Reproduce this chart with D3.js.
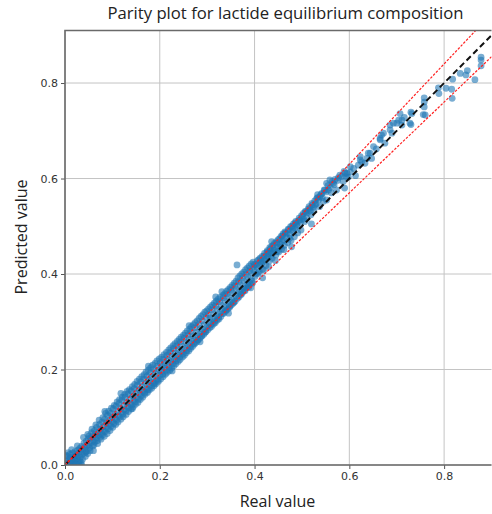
<!DOCTYPE html>
<html>
<head>
<meta charset="utf-8">
<script src="https://cdn.jsdelivr.net/npm/d3@7"></script>
<style>
  body { margin: 0; background: #fff; }
  svg { display: block; }
</style>
</head>
<body>
<svg class="parity" width="492" height="514"></svg>
<script>
var width = 492
var height = 514

// [real, predicted] pairs (core of the band)
var samples = [
  [0.002,0.008],[0.004,0.000],[0.005,0.018],[0.006,0.004],[0.008,0.012],[0.009,0.001],[0.010,0.022],[0.011,0.007],
  [0.012,0.015],[0.013,0.003],[0.015,0.010],[0.016,0.025],[0.017,0.006],[0.018,0.017],[0.019,0.000],[0.020,0.013],
  [0.021,0.028],[0.022,0.009],[0.023,0.019],[0.024,0.002],[0.025,0.024],[0.026,0.014],[0.027,0.031],[0.028,0.008],
  [0.029,0.021],[0.030,0.001],[0.031,0.035],[0.032,0.016],[0.033,0.027],[0.034,0.006],[0.035,0.039],[0.036,0.022],
  [0.037,0.012],[0.038,0.033],[0.040,0.046],[0.041,0.025],[0.042,0.037],[0.043,0.018],[0.045,0.050],[0.046,0.030],
  [0.047,0.041],[0.048,0.024],[0.049,0.055],
  [0.050,0.042],[0.051,0.061],[0.052,0.036],[0.054,0.056],[0.055,0.047],[0.056,0.068],[0.058,0.040],[0.059,0.060],
  [0.060,0.052],[0.062,0.072],[0.063,0.048],[0.064,0.064],[0.066,0.057],[0.067,0.079],[0.068,0.051],[0.070,0.069],
  [0.071,0.062],[0.073,0.085],[0.074,0.058],[0.075,0.075],[0.077,0.066],[0.078,0.090],[0.079,0.063],[0.081,0.080],
  [0.082,0.071],[0.084,0.096],[0.085,0.070],[0.087,0.088],[0.088,0.079],[0.090,0.104],[0.091,0.076],[0.093,0.093],
  [0.094,0.085],[0.096,0.108],[0.097,0.081],[0.099,0.100],
  [0.100,0.091],[0.102,0.118],[0.103,0.087],[0.105,0.106],[0.106,0.097],[0.108,0.124],[0.109,0.094],[0.111,0.112],
  [0.113,0.103],[0.114,0.129],[0.116,0.101],[0.117,0.119],[0.119,0.110],[0.120,0.136],[0.122,0.107],[0.124,0.125],
  [0.125,0.116],[0.127,0.142],[0.128,0.113],[0.130,0.131],[0.132,0.122],[0.133,0.149],[0.135,0.120],[0.137,0.139],
  [0.138,0.128],[0.140,0.155],[0.141,0.126],[0.143,0.145],[0.145,0.135],[0.146,0.160],[0.148,0.132],[0.150,0.151],
  [0.151,0.141],[0.153,0.167],[0.155,0.138],[0.156,0.158],[0.158,0.149],[0.160,0.174],[0.161,0.145],[0.163,0.164],
  [0.165,0.155],[0.166,0.180],[0.168,0.152],[0.170,0.171],[0.172,0.160],[0.173,0.186],[0.175,0.158],[0.177,0.178],
  [0.179,0.167],[0.180,0.193],[0.182,0.165],[0.184,0.184],[0.186,0.173],[0.187,0.200],[0.189,0.171],[0.191,0.192],
  [0.193,0.180],[0.195,0.207],[0.196,0.178],[0.198,0.199],
  [0.200,0.188],[0.201,0.214],[0.203,0.196],[0.205,0.207],[0.206,0.190],[0.208,0.221],[0.210,0.203],[0.211,0.214],
  [0.213,0.198],[0.215,0.229],[0.217,0.209],[0.218,0.220],[0.220,0.205],[0.222,0.236],[0.224,0.216],[0.226,0.228],
  [0.227,0.212],[0.229,0.243],[0.231,0.222],[0.233,0.235],[0.235,0.219],[0.236,0.250],[0.238,0.230],[0.240,0.242],
  [0.242,0.226],[0.244,0.258],[0.246,0.237],[0.247,0.249],[0.249,0.233],[0.251,0.265],[0.253,0.244],[0.255,0.257],
  [0.257,0.240],[0.259,0.272],[0.260,0.251],[0.262,0.264],[0.264,0.248],[0.266,0.279],[0.268,0.259],[0.270,0.271],
  [0.272,0.255],[0.274,0.287],[0.276,0.266],[0.278,0.279],[0.280,0.262],[0.282,0.294],[0.284,0.274],[0.286,0.286],
  [0.288,0.270],[0.290,0.302],[0.292,0.281],[0.294,0.294],[0.296,0.278],[0.298,0.309],
  [0.300,0.290],[0.302,0.315],[0.304,0.298],[0.306,0.308],[0.308,0.294],[0.310,0.325],[0.312,0.305],[0.314,0.317],
  [0.316,0.301],[0.318,0.333],[0.320,0.313],[0.322,0.326],[0.324,0.309],[0.326,0.342],[0.328,0.321],[0.331,0.363],
  [0.330,0.334],[0.332,0.317],[0.334,0.350],[0.336,0.330],[0.338,0.343],[0.340,0.325],[0.342,0.358],[0.344,0.338],
  [0.346,0.351],[0.348,0.333],[0.350,0.366],[0.352,0.346],[0.354,0.360],[0.356,0.341],[0.358,0.374],[0.360,0.355],
  [0.363,0.419],[0.362,0.368],[0.364,0.349],[0.366,0.383],[0.368,0.363],[0.370,0.377],[0.372,0.357],[0.374,0.391],
  [0.376,0.371],[0.378,0.385],[0.380,0.365],[0.382,0.399],[0.384,0.380],[0.386,0.394],[0.388,0.373],[0.390,0.407],
  [0.392,0.388],[0.394,0.402],[0.396,0.381],[0.398,0.415],
  [0.398,0.408],[0.401,0.395],[0.403,0.420],[0.405,0.415],[0.407,0.402],[0.409,0.430],[0.411,0.418],[0.413,0.426],
  [0.415,0.422],[0.417,0.410],[0.419,0.408],[0.420,0.438],[0.422,0.429],[0.424,0.418],[0.426,0.446],[0.428,0.436],
  [0.429,0.443],[0.431,0.427],[0.433,0.452],[0.435,0.444],[0.437,0.433],[0.439,0.460],[0.441,0.450],[0.443,0.450],
  [0.445,0.440],[0.447,0.464],[0.449,0.455],[0.451,0.446],[0.453,0.474],[0.455,0.462],[0.457,0.452],[0.459,0.480],
  [0.461,0.471],[0.463,0.460],[0.465,0.486],[0.467,0.476],[0.470,0.466],[0.472,0.493],[0.475,0.482],[0.477,0.470],
  [0.479,0.500],[0.481,0.489],[0.484,0.478],[0.486,0.507],[0.489,0.503],[0.491,0.486],[0.493,0.512],[0.496,0.513],
  [0.498,0.492],
  [0.501,0.520],[0.503,0.527],[0.506,0.510],[0.508,0.530],[0.510,0.517],[0.513,0.536],[0.517,0.538],[0.519,0.524],
  [0.522,0.545],[0.525,0.533],[0.528,0.545],[0.531,0.558],[0.535,0.555],[0.537,0.541],[0.540,0.566],[0.542,0.569],
  [0.545,0.552],[0.548,0.575],[0.552,0.555],[0.552,0.590],[0.556,0.576],[0.559,0.597],[0.562,0.570],[0.566,0.590],
  [0.570,0.598],[0.573,0.576],[0.577,0.602],[0.584,0.604],[0.587,0.594],[0.591,0.611],[0.595,0.611],[0.598,0.603],
  [0.602,0.614],[0.602,0.625],[0.609,0.621],[0.613,0.606],[0.619,0.628],[0.623,0.639],[0.623,0.646],[0.626,0.635],
  [0.633,0.632],[0.637,0.642],[0.640,0.653],[0.644,0.653],[0.647,0.642],[0.651,0.667],[0.657,0.662],[0.665,0.681],
  [0.665,0.684],[0.668,0.691],[0.672,0.695],[0.675,0.674],[0.686,0.702],[0.686,0.712],[0.690,0.695],[0.693,0.716],
  [0.700,0.716],
  [0.704,0.722],[0.707,0.736],[0.711,0.712],[0.711,0.722],[0.716,0.728],[0.728,0.716],[0.730,0.739],[0.730,0.713],
  [0.732,0.736],[0.756,0.734],[0.758,0.769],[0.758,0.760],[0.758,0.750],[0.760,0.733],[0.788,0.790],[0.789,0.778],
  [0.804,0.789],[0.816,0.787],[0.817,0.768],[0.818,0.808],[0.834,0.820],[0.846,0.817],[0.849,0.826],[0.865,0.807],
  [0.878,0.854],[0.878,0.848],[0.878,0.836]
]

// [real, predicted] pairs on the outer edges of the band
var edgeSamples = [
  [0.003,0.020],[0.007,0.026],[0.014,0.032],[0.020,0.004],[0.026,0.040],[0.031,0.009],[0.035,0.000],[0.039,0.058],
  [0.044,0.027],[0.048,0.064],[0.053,0.030],[0.057,0.075],[0.061,0.042],[0.065,0.084],[0.069,0.045],[0.072,0.094],
  [0.076,0.054],[0.080,0.099],[0.083,0.060],[0.086,0.108],[0.089,0.066],[0.092,0.113],[0.095,0.072],[0.098,0.119],
  [0.101,0.079],[0.104,0.125],[0.107,0.085],[0.110,0.132],[0.112,0.090],[0.115,0.137],[0.118,0.096],[0.121,0.142],
  [0.123,0.101],[0.126,0.148],[0.129,0.106],[0.131,0.154],[0.134,0.112],[0.136,0.158],[0.139,0.117],[0.142,0.164],
  [0.144,0.122],[0.147,0.169],[0.149,0.127],[0.152,0.175],[0.154,0.131],[0.157,0.180],[0.159,0.137],[0.162,0.185],
  [0.164,0.142],[0.167,0.189],[0.169,0.148],[0.171,0.195],[0.174,0.152],[0.176,0.199],[0.178,0.157],[0.181,0.204],
  [0.183,0.161],[0.185,0.209],[0.188,0.166],[0.190,0.213],[0.192,0.170],[0.194,0.218],[0.197,0.175],[0.199,0.222],
  [0.202,0.180],[0.204,0.226],[0.207,0.185],[0.209,0.231],[0.212,0.190],[0.214,0.236],[0.216,0.194],[0.219,0.241],
  [0.221,0.198],[0.223,0.245],[0.225,0.203],[0.228,0.250],[0.230,0.208],[0.232,0.254],[0.234,0.212],[0.237,0.259],
  [0.239,0.217],[0.241,0.263],[0.243,0.221],[0.245,0.268],[0.248,0.226],[0.250,0.272],[0.252,0.230],[0.254,0.276],
  [0.256,0.235],[0.258,0.281],[0.261,0.239],[0.263,0.285],[0.265,0.244],[0.267,0.290],[0.269,0.248],[0.271,0.294],
  [0.273,0.253],[0.275,0.298],[0.277,0.257],[0.279,0.302],[0.281,0.262],[0.283,0.307],[0.285,0.266],[0.287,0.311],
  [0.289,0.270],[0.291,0.315],[0.293,0.274],[0.295,0.320],[0.297,0.279],[0.299,0.323],
  [0.301,0.283],[0.303,0.327],[0.305,0.287],[0.307,0.331],[0.309,0.290],[0.311,0.335],[0.313,0.295],[0.315,0.339],
  [0.317,0.298],[0.319,0.343],[0.321,0.303],[0.323,0.347],[0.325,0.306],[0.327,0.351],[0.329,0.311],[0.333,0.355],
  [0.335,0.318],[0.337,0.359],[0.339,0.322],[0.341,0.364],[0.343,0.326],[0.345,0.368],[0.347,0.330],[0.349,0.372],
  [0.351,0.335],[0.353,0.376],[0.355,0.339],[0.357,0.381],[0.359,0.343],[0.361,0.385],[0.365,0.392],[0.367,0.352],
  [0.369,0.396],[0.371,0.358],[0.373,0.400],[0.375,0.362],[0.377,0.404],[0.379,0.367],[0.381,0.409],[0.383,0.371],
  [0.385,0.413],[0.387,0.376],[0.389,0.417],[0.391,0.380],[0.393,0.421],[0.395,0.385],[0.397,0.425],
  [0.400,0.420],[0.404,0.400],[0.406,0.428],[0.410,0.405],[0.412,0.433],[0.416,0.437],[0.418,0.425],[0.421,0.443],
  [0.425,0.432],[0.427,0.449],[0.430,0.415],[0.432,0.455],[0.434,0.438],[0.436,0.458],[0.440,0.445],[0.442,0.464],
  [0.444,0.428],[0.446,0.468],[0.448,0.447],[0.450,0.472],[0.454,0.457],[0.456,0.479],[0.458,0.467],[0.460,0.484],
  [0.462,0.451],[0.464,0.488],[0.468,0.485],[0.471,0.494],[0.474,0.475],[0.476,0.499],[0.480,0.493],[0.482,0.505],
  [0.485,0.496],[0.487,0.510],[0.490,0.500],[0.494,0.517],[0.497,0.508],[0.499,0.522],
  [0.504,0.515],[0.507,0.531],[0.511,0.528],[0.515,0.541],[0.518,0.532],[0.521,0.548],[0.524,0.540],[0.527,0.553],
  [0.530,0.547],[0.533,0.560],[0.538,0.562],[0.543,0.560],[0.547,0.576],[0.551,0.572],[0.555,0.585],[0.560,0.581],
  [0.564,0.594],[0.568,0.587],[0.575,0.596],[0.580,0.607],[0.589,0.615],[0.593,0.604]
]

// a few stragglers that make the band edge ragged
var strayPoints = [
  [0.060,0.030],[0.084,0.112],[0.118,0.150],[0.142,0.118],[0.176,0.207],[0.226,0.197],[0.262,0.292],[0.285,0.258],
  [0.318,0.352],[0.345,0.318],[0.392,0.371],[0.417,0.392],[0.436,0.468],[0.478,0.457],[0.520,0.505],[0.533,0.566],
  [0.590,0.580]
]

var xTicks = [0.0, 0.2, 0.4, 0.6, 0.8]
var yTicks = [0.0, 0.2, 0.4, 0.6, 0.8]
var bandFactors = [1.05, 0.95]   // +-5% lines
var xDomain = [0, 0.9]
var yDomain = [0, 0.91]

var plot = {left: 65, right: 491.5, top: 30.5, bottom: 465}

var svg = d3.select(".parity")
  .attr("width", width)
  .attr("height", height)

var xScale = d3.scaleLinear().domain(xDomain).range([plot.left, plot.right])
var yScale = d3.scaleLinear().domain(yDomain).range([plot.bottom, plot.top])

svg.append("defs").append("clipPath")
  .attr("id", "plotClip")
  .append("rect")
  .attr("x", plot.left)
  .attr("y", plot.top)
  .attr("width", plot.right - plot.left)
  .attr("height", plot.bottom - plot.top)

// grid
var grid = svg.append("g").attr("class", "grid")
grid.selectAll(".vgrid").data(xTicks).enter().append("line")
  .attr("x1", function(d){ return xScale(d) })
  .attr("x2", function(d){ return xScale(d) })
  .attr("y1", plot.top).attr("y2", plot.bottom)
  .attr("stroke", "#c4c4c4").attr("stroke-width", 1)
grid.selectAll(".hgrid").data(yTicks).enter().append("line")
  .attr("y1", function(d){ return yScale(d) })
  .attr("y2", function(d){ return yScale(d) })
  .attr("x1", plot.left).attr("x2", plot.right)
  .attr("stroke", "#c4c4c4").attr("stroke-width", 1)

var inner = svg.append("g").attr("clip-path", "url(#plotClip)")

inner.selectAll(".dot")
  .data(strayPoints.concat(edgeSamples, samples))
  .enter()
  .append("circle")
  .attr("class", "dot")
  .attr("cx", function(d){ return xScale(d[0]) })
  .attr("cy", function(d){ return yScale(d[1]) })
  .attr("r", 3.4)
  .attr("fill", "#1f77b4")
  .attr("fill-opacity", 0.6)

// ideal line and +-5% band
var line = d3.line()
  .x(function(d){ return xScale(d[0]) })
  .y(function(d){ return yScale(d[1]) })

inner.append("path")
  .datum([[0, 0], [xDomain[1], xDomain[1]]])
  .attr("d", line)
  .attr("fill", "none")
  .attr("stroke", "#111")
  .attr("stroke-width", 2)
  .attr("stroke-dasharray", "6,3.5")

bandFactors.forEach(function(f){
  inner.append("path")
    .datum([[0, 0], [xDomain[1], xDomain[1] * f]])
    .attr("d", line)
    .attr("fill", "none")
    .attr("stroke", "#ff2020")
    .attr("stroke-width", 1.2)
    .attr("stroke-dasharray", "2.5,1.5")
})

// axes
var xAxis = d3.axisBottom(xScale).tickValues(xTicks).tickFormat(d3.format(".1f")).tickSize(4).tickPadding(3)
var yAxis = d3.axisLeft(yScale).tickValues(yTicks).tickFormat(d3.format(".1f")).tickSize(4).tickPadding(3)

var gx = svg.append("g")
  .attr("transform", "translate(0," + plot.bottom + ")")
  .call(xAxis)
var gy = svg.append("g")
  .attr("transform", "translate(" + plot.left + ",0)")
  .call(yAxis)

;[gx, gy].forEach(function(g){
  g.select(".domain").remove()
  g.selectAll(".tick line").attr("stroke", "#555").attr("stroke-width", 1)
  g.selectAll("text")
    .attr("font-family", "DejaVu Sans")
    .attr("font-size", 11)
    .attr("fill", "#333")
})

// spines
svg.append("path")
  .attr("d", "M" + plot.right + "," + plot.top + "H" + plot.left + "V" + plot.bottom + "H" + plot.right)
  .attr("fill", "none")
  .attr("stroke", "#6a6a6a")
  .attr("stroke-width", 1.6)

svg.append("text")
  .attr("x", 285.5)
  .attr("y", 19)
  .attr("text-anchor", "middle")
  .attr("font-family", "Open Sans")
  .attr("font-size", 16.7)
  .attr("fill", "#222")
  .text("Parity plot for lactide equilibrium composition")

svg.append("text")
  .attr("x", 277.5)
  .attr("y", 507)
  .attr("text-anchor", "middle")
  .attr("font-family", "Open Sans")
  .attr("font-size", 16)
  .attr("fill", "#222")
  .text("Real value")

svg.append("text")
  .attr("transform", "translate(27,237) rotate(-90)")
  .attr("text-anchor", "middle")
  .attr("font-family", "Open Sans")
  .attr("font-size", 16)
  .attr("fill", "#222")
  .text("Predicted value")
</script>
</body>
</html>
